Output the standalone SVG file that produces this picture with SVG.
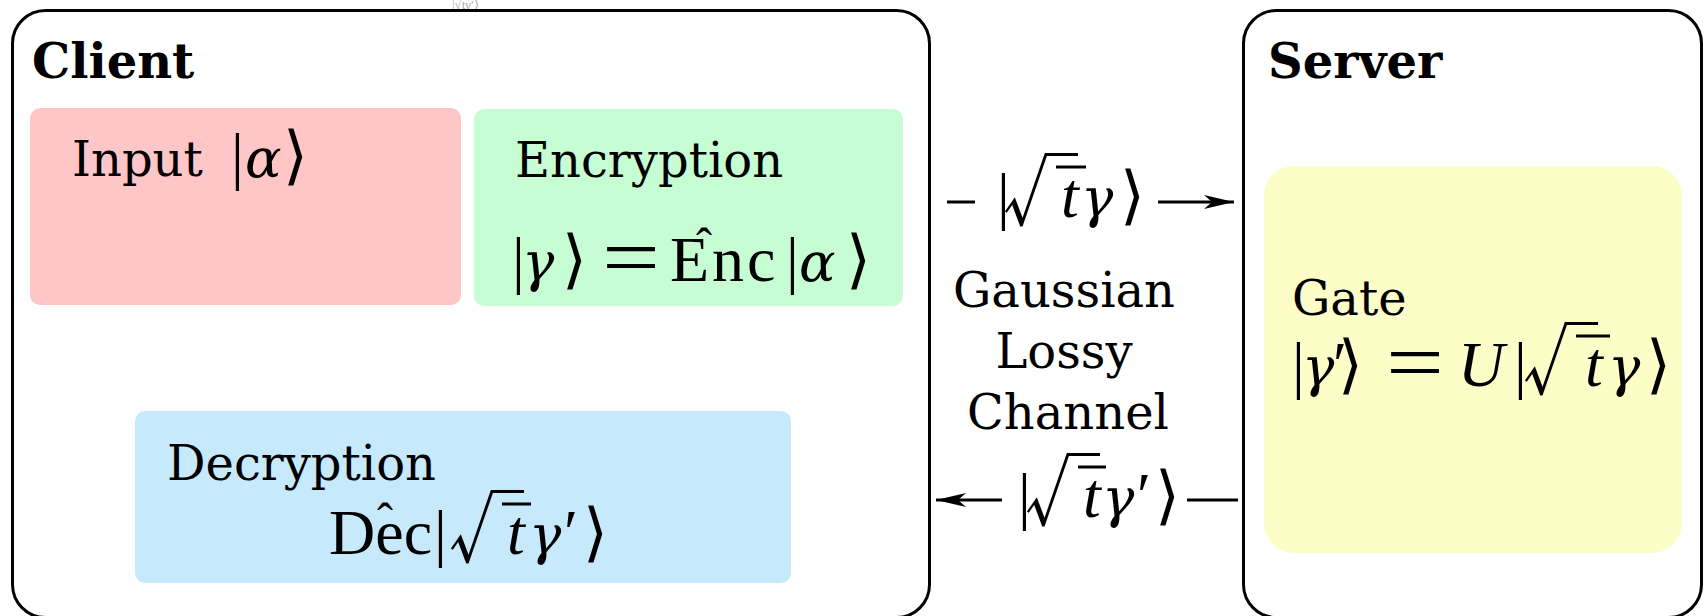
<svg xmlns="http://www.w3.org/2000/svg" width="1704" height="616" viewBox="0 0 1704 616">
<defs>
<style>
.frame{fill:#fff;stroke:#000;stroke-width:3}
.ttl{font-family:"DejaVu Serif",serif;font-weight:bold;font-size:48px;fill:#000}
.lbl{font-family:"DejaVu Serif",serif;font-size:48px;fill:#000}
.m{font-family:"Liberation Serif","DejaVu Serif",serif;font-size:64px;fill:#000}
.i{font-style:italic}
.g{font-family:"DejaVu Serif",serif;font-style:italic;font-size:54px}
.ab{font-family:"DejaVu Sans",sans-serif;font-weight:200;font-size:64px}
.rad{font-family:"Noto Sans CJK JP",sans-serif;font-weight:300;font-size:76px;fill:#000}
.eq{font-family:"Liberation Serif",serif;font-size:82px;fill:#000}
.hat{font-family:"Liberation Serif",serif;font-size:48px;fill:#000}
.conn{stroke:#000;stroke-width:3;fill:none}
.vin{stroke:#000;stroke-width:3}
</style>
<marker id="ah" markerUnits="userSpaceOnUse" markerWidth="32" markerHeight="16" viewBox="-31 -8 32 16" refX="0" refY="0" orient="auto"><path d="M0,0 L-30,-7 L-22,0 L-30,7 Z" fill="#000"/></marker>
</defs>
<rect width="1704" height="616" fill="#fff"/>
<text x="452" y="9" font-family="Liberation Serif,serif" font-size="13" fill="#aaa">|√tγ′⟩</text>

<g id="client">
<rect class="frame" x="12.5" y="10.5" width="917" height="607" rx="33"/>
<text class="ttl" x="32" y="78">Client</text>
</g>

<g id="server">
<rect class="frame" x="1243.5" y="10.5" width="458" height="607" rx="33"/>
<text class="ttl" x="1268" y="78">Server</text>
</g>

<g id="input">
<rect x="30" y="108" width="431" height="197" rx="10" fill="#fec6c6"/>
<text class="lbl" x="72" y="176">Input</text>
<text class="m"><tspan x="231" y="177">|</tspan><tspan class="g" x="245" y="177">α</tspan><tspan class="ab" x="283" y="177">⟩</tspan></text>
</g>

<g id="encryption">
<rect x="474" y="109" width="429" height="197" rx="10" fill="#c6fdd2"/>
<text class="lbl" x="515" y="177">Encryption</text>
<text class="m"><tspan x="512" y="281">|</tspan><tspan class="g" x="522" y="281">γ</tspan><tspan class="ab" x="562" y="281">⟩</tspan><tspan x="670" y="281" letter-spacing="3">Enc</tspan><tspan x="786" y="281">|</tspan><tspan class="g" x="799" y="281">α</tspan><tspan class="ab" x="846" y="281">⟩</tspan></text>
<text class="eq" x="602" y="285" textLength="58" lengthAdjust="spacingAndGlyphs">=</text>
<text class="hat" x="696" y="262">ˆ</text>
</g>

<g id="decryption">
<rect x="135" y="411" width="656" height="172" rx="10" fill="#c6e9fc"/>
<text class="lbl" x="167" y="480">Decryption</text>
<text class="m"><tspan x="329" y="554">Dec</tspan><tspan x="434" y="554">|</tspan><tspan class="i" x="507" y="554">t</tspan><tspan class="g" x="529" y="554">γ</tspan><tspan x="564" y="554">′</tspan><tspan class="ab" x="583" y="554">⟩</tspan></text>
<text class="rad" x="448" y="557">√</text>
<line class="vin" x1="502" y1="504" x2="531" y2="504"/>
<text class="hat" x="377" y="537">ˆ</text>
</g>

<g id="gate">
<rect x="1264" y="166" width="418" height="387" rx="30" fill="#fdfdc7"/>
<text class="lbl" x="1292" y="315">Gate</text>
<text class="m"><tspan x="1292" y="386">|</tspan><tspan class="g" x="1302" y="386">γ</tspan><tspan x="1333" y="386">′</tspan><tspan class="ab" x="1338" y="386">⟩</tspan><tspan class="i" x="1458" y="386">U</tspan><tspan x="1514" y="386">|</tspan><tspan class="i" x="1585" y="386">t</tspan><tspan class="g" x="1608" y="386">γ</tspan><tspan class="ab" x="1646" y="386">⟩</tspan></text>
<text class="eq" x="1386" y="390" textLength="58" lengthAdjust="spacingAndGlyphs">=</text>
<text class="rad" x="1522" y="389">√</text>
<line class="vin" x1="1576" y1="336" x2="1610" y2="336"/>
</g>

<g id="channel">
<text class="lbl" text-anchor="middle" x="1064" y="307">Gaussian</text>
<text class="lbl" text-anchor="middle" x="1064" y="368">Lossy</text>
<text class="lbl" text-anchor="middle" x="1068" y="429">Channel</text>
</g>

<g id="connectors">
<line class="conn" x1="947" y1="202" x2="975" y2="202"/>
<line class="conn" x1="1158" y1="202" x2="1234" y2="202" marker-end="url(#ah)"/>
<text class="m"><tspan x="997" y="217">|</tspan><tspan class="i" x="1061" y="217">t</tspan><tspan class="g" x="1081" y="217">γ</tspan><tspan class="ab" x="1120" y="217">⟩</tspan></text>
<text class="rad" x="1002" y="220">√</text>
<line class="vin" x1="1056" y1="167" x2="1086" y2="167"/>
<line class="conn" x1="1002" y1="500" x2="936" y2="500" marker-end="url(#ah)"/>
<line class="conn" x1="1187" y1="500" x2="1238" y2="500"/>
<text class="m"><tspan x="1018" y="517">|</tspan><tspan class="i" x="1083" y="517">t</tspan><tspan class="g" x="1102" y="517">γ</tspan><tspan x="1137" y="517">′</tspan><tspan class="ab" x="1155" y="517">⟩</tspan></text>
<text class="rad" x="1024" y="520">√</text>
<line class="vin" x1="1078" y1="467" x2="1106" y2="467"/>
</g>
</svg>
